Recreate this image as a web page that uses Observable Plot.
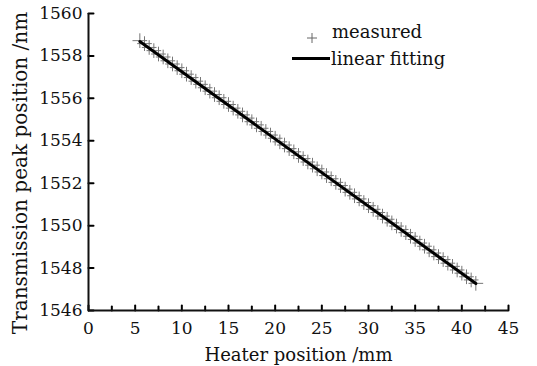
<!DOCTYPE html>
<html>
<head>
<meta charset="utf-8">
<script src="https://cdn.jsdelivr.net/npm/d3@7"></script>
<script src="https://cdn.jsdelivr.net/npm/@observablehq/plot@0.6"></script>
<style>
  html, body { margin: 0; padding: 0; background: #fff; }
  #wrap { position: relative; width: 537px; height: 366px; font-family: "DejaVu Serif", serif; color: #111; }
  .li { position: absolute; white-space: nowrap; line-height: 1; font-size: 18px; }
  #ylab { position: absolute; left: 20px; top: 173px; transform: translate(-50%, -50%) rotate(-90deg); white-space: nowrap; font-size: 20px; line-height: 1; }
</style>
</head>
<body>
<div id="wrap">
  <div id="chart"></div>
  <svg class="li" style="left:307px; top:33px;" width="10" height="10"><path d="M5,0V10M0,5H10" stroke="#666" stroke-width="1"/></svg>
  <div class="li" style="left:332px; top:23px;">measured</div>
  <div class="li" style="left:292px; top:57px; width:38px; height:3px; background:#000;"></div>
  <div class="li" style="left:331px; top:50px;">linear fitting</div>
  <div id="ylab">Transmission peak position /nm</div>
</div>
<script>
// Heater position (mm), measured points
const heaterPos = [5.5,6,6.5,7,7.5,8,8.5,9,9.5,10,10.5,11,11.5,12,12.5,13,13.5,14,14.5,15,15.5,16,16.5,17,17.5,18,18.5,19,19.5,20,20.5,21,21.5,22,22.5,23,23.5,24,24.5,25,25.5,26,26.5,27,27.5,28,28.5,29,29.5,30,30.5,31,31.5,32,32.5,33,33.5,34,34.5,35,35.5,36,36.5,37,37.5,38,38.5,39,39.5,40,40.5,41,41.5];
// Transmission peak position (nm), measured
const peakPos = [1558.72,1558.58,1558.40,1558.25,1558.09,1557.95,1557.77,1557.62,1557.45,1557.30,1557.14,1556.98,1556.81,1556.66,1556.50,1556.34,1556.18,1556.03,1555.86,1555.71,1555.54,1555.39,1555.22,1555.07,1554.90,1554.75,1554.59,1554.44,1554.27,1554.12,1553.95,1553.80,1553.63,1553.48,1553.31,1553.16,1553.00,1552.85,1552.68,1552.53,1552.36,1552.21,1552.04,1551.89,1551.72,1551.57,1551.41,1551.26,1551.09,1550.94,1550.77,1550.62,1550.45,1550.30,1550.13,1549.98,1549.82,1549.67,1549.50,1549.35,1549.18,1549.03,1548.86,1548.71,1548.54,1548.40,1548.23,1548.08,1547.91,1547.76,1547.59,1547.44,1547.28];
// Linear fitting endpoints
const fitX = [5.5, 41.5];
const fitY = [1558.68, 1547.27];
// Ticks
const xTicks = [0,5,10,15,20,25,30,35,40,45];
const xMinor = [2.5,7.5,12.5,17.5,22.5,27.5,32.5,37.5,42.5];
const yTicks = [1546,1548,1550,1552,1554,1556,1558,1560];

const measured = heaterPos.map((x, i) => ({x, y: peakPos[i]}));
const fit = fitX.map((x, i) => ({x, y: fitY[i]}));
const yMin = yTicks[0], xMin = xTicks[0];

const tickShape = {draw(ctx, l) { ctx.moveTo(0, 0); ctx.lineTo(0, -l); }};

const chart = Plot.plot({
  width: 537,
  height: 366,
  marginLeft: 88,
  marginRight: 29,
  marginTop: 13,
  marginBottom: 56,
  style: {fontFamily: "DejaVu Serif, serif", fontSize: "17px", color: "#111", background: "#fff"},
  x: {domain: [0, 45]},
  y: {domain: [1546, 1560]},
  marks: [
    Plot.dot(measured, {x: "x", y: "y", symbol: "plus", r: 4.8, stroke: "#777", strokeWidth: 1}),
    Plot.line(fit, {x: "x", y: "y", stroke: "#000", strokeWidth: 3}),
    // inward ticks
    Plot.vector(xTicks, {x: d => d, y: () => yMin, length: 5, rotate: 0, anchor: "start", shape: tickShape, stroke: "#000", strokeWidth: 2}),
    Plot.vector(xMinor, {x: d => d, y: () => yMin, length: 4, rotate: 0, anchor: "start", shape: tickShape, stroke: "#000", strokeWidth: 2}),
    Plot.vector(yTicks, {x: () => xMin, y: d => d, length: 5, rotate: 90, anchor: "start", shape: tickShape, stroke: "#000", strokeWidth: 2}),
    Plot.axisX({ticks: xTicks, tickSize: 0, tickPadding: 11, label: "Heater position /mm", labelAnchor: "center", labelArrow: "none", labelOffset: 50, fontSize: 17}),
    Plot.axisY({ticks: yTicks, tickSize: 0, tickPadding: 6, tickFormat: d => String(d), label: null, fontSize: 17}),
    Plot.ruleX([0], {strokeWidth: 2}),
    Plot.ruleY([1546], {strokeWidth: 2})
  ]
});
document.getElementById("chart").appendChild(chart);
// enlarge the x axis title
chart.querySelectorAll("[aria-label='x-axis label'] text").forEach(t => t.setAttribute("font-size", "18"));
</script>
</body>
</html>
